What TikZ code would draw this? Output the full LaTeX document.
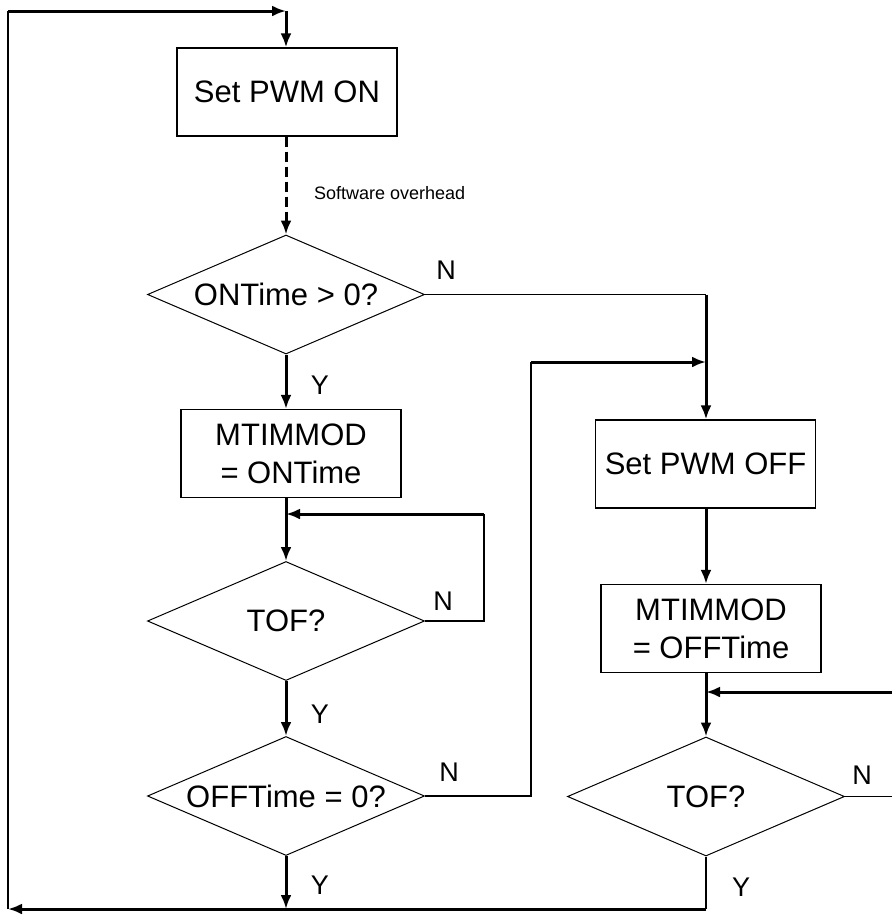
\documentclass[tikz,border=0pt]{standalone}
\usepackage{fontspec}
\setmainfont{Liberation Sans}
\usepackage{tikz}
\usetikzlibrary{shapes.geometric,arrows.meta,positioning}

\begin{document}
\begin{tikzpicture}[x=0.5pt, y=-0.5pt,
    box/.style={draw, line width=0.6pt, minimum width=110pt, minimum height=44pt, inner sep=0pt, align=center, font=\fontsize{15.5}{19}\selectfont},
    test/.style={draw, diamond, aspect=2.33, line width=0.5pt, minimum width=138.5pt, minimum height=59.5pt, inner sep=0pt, font=\fontsize{15.5}{19}\selectfont},
    lbl/.style={font=\fontsize{13.5}{16}\selectfont},
    flow/.style={line width=1.5pt, -{Latex[length=7pt,width=5.5pt]}},
    link/.style={line width=0.75pt}]
    \useasboundingbox (0,0) rectangle (892,917);
    % left column
    \node[box] (on) at (287,92) {Set PWM ON};
    \node[test] (ontest) at (286,294.5) {ONTime > 0?};
    \node[box] (modon) at (291,453.5) {MTIMMOD\\= ONTime};
    \node[test] (tofon) at (286,621) {TOF?};
    \node[test] (offtest) at (286,796) {OFFTime = 0?};
    % right column
    \node[box] (off) at (705.5,464) {Set PWM OFF};
    \node[box] (modoff) at (711,628.5) {MTIMMOD\\= OFFTime};
    \node[test] (toff) at (706,796.5) {TOF?};
    % junctions
    \coordinate (tl) at (8,11);
    \coordinate (tm) at (286,11);
    \coordinate (bl) at (8,909);
    \coordinate (bm) at (286,909);
    \coordinate (br) at (706,909);
    \coordinate (nj) at (706,294.5);
    \coordinate (oj) at (531,362);
    \coordinate (oi) at (706,362);
    \coordinate (lj) at (484,514);
    \coordinate (li) at (286,514);
    \coordinate (rj) at (896,692);
    \coordinate (ri) at (706,692);
    % main loop
    \draw[link] (bl) -- (tl);
    \draw[flow] (tl) -- (tm);
    \draw[flow] (tm) -- (tm |- on.north);
    \draw[flow, dash pattern=on 5pt off 2.5pt] (tm |- on.south) -- (ontest.north);
    \node[anchor=west, font=\fontsize{9}{11}\selectfont] (sw) at (307,193) {Software overhead};
    \draw[flow] (ontest.south) -- (ontest.south |- modon.north);
    \draw[link] (ontest.east) -- (nj);
    \draw[flow] (nj) -- (nj |- off.north);
    \draw[flow] (li |- modon.south) -- (tofon.north);
    \draw[link] (tofon.east) -| (lj);
    \draw[flow] (lj) -- (li);
    \draw[flow] (tofon.south) -- (offtest.north);
    \draw[link] (offtest.east) -| (oj);
    \draw[flow] (oj) -- (oi);
    \draw[flow] (offtest.south) -- (bm);
    \draw[flow] (nj |- off.south) -- (nj |- modoff.north);
    \draw[flow] (nj |- modoff.south) -- (toff.north);
    \draw[link] (toff.east) -| (rj);
    \draw[flow] (rj) -- (ri);
    \draw[link] (toff.south) -- (br);
    \draw[flow] (br) -- (bl);
    % labels
    \node[lbl] (n1) at (446,270) {N};
    \node[lbl] (y1) at (320,385) {Y};
    \node[lbl] (n2) at (443,601) {N};
    \node[lbl] (y2) at (320,714) {Y};
    \node[lbl] (n3) at (449,772) {N};
    \node[lbl] (y3) at (320,885) {Y};
    \node[lbl] (n4) at (862,775) {N};
    \node[lbl] (y4) at (741,887) {Y};
\end{tikzpicture}
\end{document}
